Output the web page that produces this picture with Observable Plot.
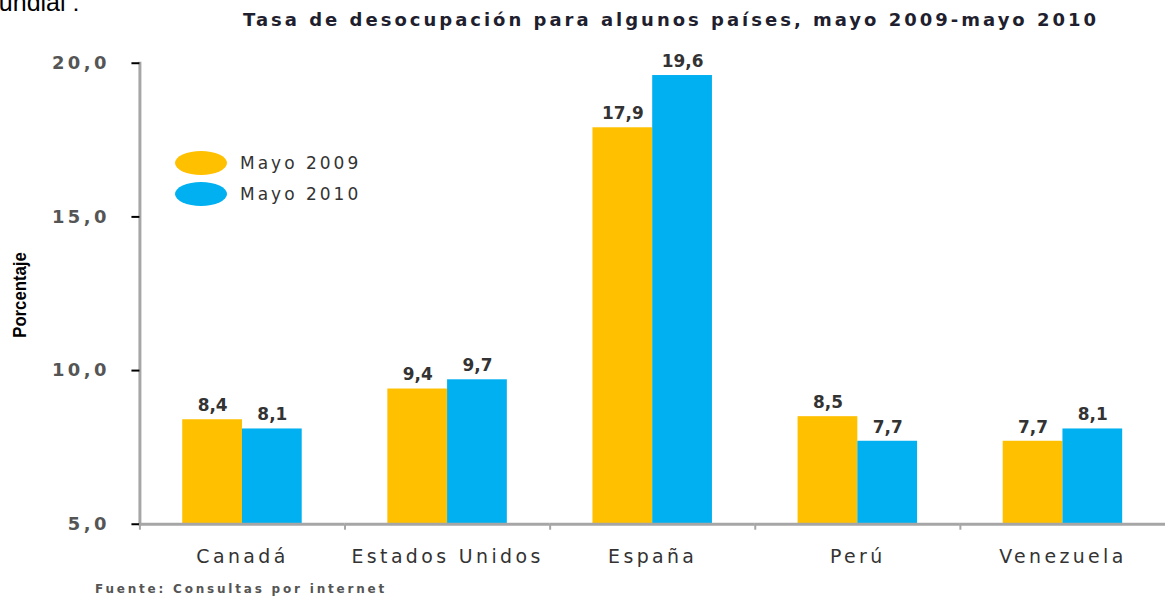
<!DOCTYPE html>
<html>
<head>
<meta charset="utf-8">
<script src="https://cdn.jsdelivr.net/npm/d3@7"></script>
<script src="https://cdn.jsdelivr.net/npm/@observablehq/plot@0.6"></script>
<style>
  html, body { margin: 0; padding: 0; background: #fff; }
  body { width: 1167px; height: 601px; position: relative; overflow: hidden; font-family: "DejaVu Sans", sans-serif; }
  #chart { position: absolute; left: 0; top: 0; }
  .over { position: absolute; white-space: nowrap; }
  #cut { left: -22px; top: -12px; font-family: "Liberation Sans", Arial, sans-serif; font-size: 25px; color: #000; }
  #title { left: 243px; top: 9px; font-weight: bold; font-size: 18px; letter-spacing: 3px; color: #1f1f2f; }
  #ylab { left: 20px; top: 295px; font-family: "Liberation Sans Narrow", "Liberation Sans", sans-serif; font-weight: bold; font-size: 19px; color: #000; transform: translate(-50%, -50%) rotate(-90deg) scaleX(0.88); }
  #legend { left: 175px; top: 147px; }
  .item { display: flex; align-items: center; height: 31px; }
  .sw { width: 52px; height: 24px; border-radius: 50%; margin-right: 13px; }
  .lt { font-size: 17px; letter-spacing: 3px; color: #333; }
  #caption { left: 95px; top: 582px; font-size: 12px; font-weight: bold; letter-spacing: 2.8px; color: #555; }
  svg [aria-label="y-axis tick label"] { font-weight: bold; fill: #555; letter-spacing: 3.5px; font-size: 18px; }
  svg [aria-label="y-axis tick"] { stroke: #a6a6a6; stroke-width: 2; }
  svg [aria-label="fx-axis tick label"] { letter-spacing: 3.4px; }
</style>
</head>
<body>
<div id="cut" class="over">mundial :</div>
<div id="title" class="over">Tasa de desocupación  para algunos países, mayo 2009-mayo 2010</div>
<div id="chart"></div>
<div id="ylab" class="over">Porcentaje</div>
<div id="legend" class="over"></div>
<div id="caption" class="over">Fuente: Consultas por internet</div>
<script>
const countries = ["Canadá", "Estados Unidos", "España", "Perú", "Venezuela"];
const series = ["Mayo 2009", "Mayo 2010"];
const mayo2009 = [8.4, 9.4, 17.9, 8.5, 7.7];
const mayo2010 = [8.1, 9.7, 19.6, 7.7, 8.1];
const colors = ["#FFC000", "#00B0F0"];
const yTicks = [5, 10, 15, 20];
const baseline = 5;

const data = countries.flatMap((c, i) => [
  {country: c, series: series[0], value: mayo2009[i]},
  {country: c, series: series[1], value: mayo2010[i]}
]);
const fmt = d => d.toFixed(1).replace(".", ",");

const chart = Plot.plot({
  width: 1172,
  height: 601,
  marginTop: 63,
  marginBottom: 75,
  marginLeft: 138,
  marginRight: 0,
  style: {fontFamily: "DejaVu Sans, sans-serif", fontSize: "18px", background: "transparent", overflow: "visible"},
  fx: {domain: countries, padding: 0, label: null},
  x: {domain: series, paddingInner: 0, paddingOuter: 0.7, axis: null},
  y: {domain: [5, 20], ticks: yTicks, tickFormat: fmt, tickSize: 8, tickPadding: 22, line: true, label: null},
  color: {domain: series, range: colors},
  marks: [
    Plot.barY(data, {fx: "country", x: "series", y1: baseline, y2: "value", fill: "series"}),
    Plot.ruleY([baseline], {stroke: "#a6a6a6", strokeWidth: 3}),
    Plot.text(data, {fx: "country", x: "series", y: "value", text: d => fmt(d.value), dy: -14, fontWeight: "bold", fontSize: 17, fill: "#333", style: "letter-spacing:2.6px"}),
    Plot.axisFx({anchor: "bottom", tickSize: 0, tickPadding: 25, fontSize: 19, fill: "#333", label: null}),
    Plot.axisFx({anchor: "bottom", text: null, tickSize: 6, dx: -103, stroke: "#a6a6a6", strokeWidth: 2, label: null})
  ]
});
// grey axis line (the y scale's line)
chart.querySelectorAll("[aria-label]").forEach(g => {
  const l = g.getAttribute("aria-label");
  if (/frame|line/.test(l)) {
    g.setAttribute("stroke", "#a6a6a6");
    g.setAttribute("stroke-width", "3");
    g.querySelectorAll("*").forEach(e => { e.setAttribute("stroke", "#a6a6a6"); e.setAttribute("stroke-width", "3"); });
  }
});
document.getElementById("chart").append(chart);

const legend = document.getElementById("legend");
series.forEach((s, i) => {
  const item = document.createElement("div");
  item.className = "item";
  item.innerHTML = `<div class="sw" style="background:${colors[i]}"></div><span class="lt">${s}</span>`;
  legend.append(item);
});
</script>
</body>
</html>
